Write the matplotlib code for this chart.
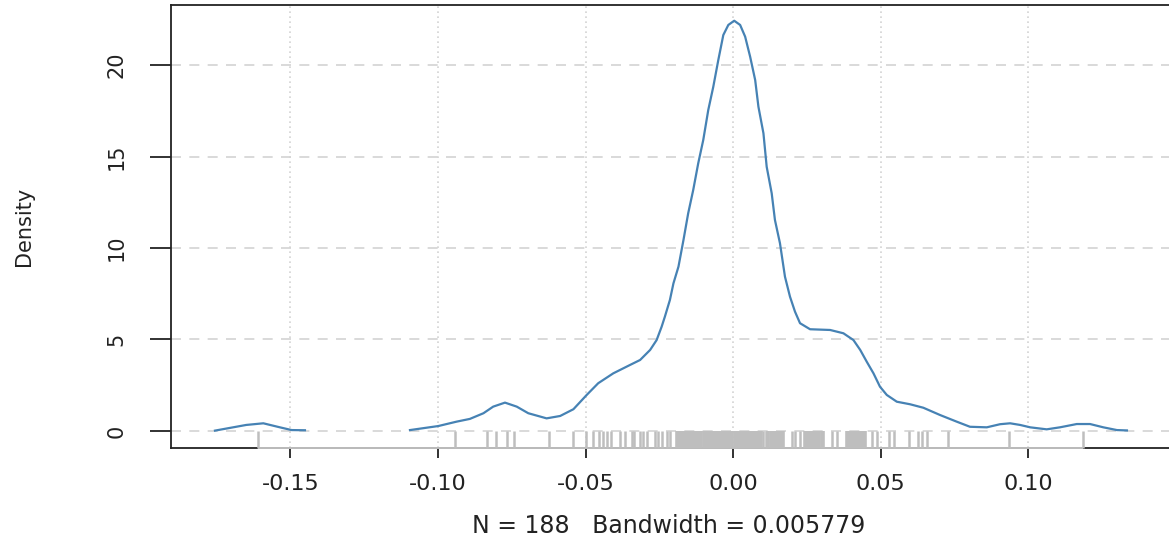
import matplotlib
matplotlib.use('Agg')
from matplotlib import pyplot as plt
import matplotlib.transforms as mtransforms

plt.rcParams['font.family'] = ['DejaVu Sans']
plt.rcParams['axes.unicode_minus'] = False

# density curve (x value, density)
bump_x = [-0.1756, -0.1650, -0.1592, -0.1536, -0.1496, -0.1451]
bump_y = [0.02, 0.33, 0.42, 0.20, 0.05, 0.04]

dens_x = [-0.1095, -0.0999, -0.0937, -0.0892, -0.0846, -0.0813, -0.0773, -0.0733,
          -0.0694, -0.0632, -0.0586, -0.0541, -0.0496, -0.0457, -0.0406, -0.0349,
          -0.0315, -0.0281, -0.0259, -0.0242, -0.0231, -0.0214, -0.0202, -0.0185,
          -0.0168, -0.0152, -0.0135, -0.0118, -0.0101, -0.0084, -0.0067, -0.0050,
          -0.0033, -0.0016, 0.0004, 0.0024, 0.0041, 0.0058, 0.0075, 0.0086,
          0.0103, 0.0114, 0.0131, 0.0142, 0.0159, 0.0176, 0.0193, 0.0210,
          0.0227, 0.0261, 0.0329, 0.0374, 0.0408, 0.0431, 0.0453, 0.0476,
          0.0498, 0.0521, 0.0555, 0.0600, 0.0645, 0.0702, 0.0758, 0.0803,
          0.0860, 0.0905, 0.0939, 0.0973, 0.1007, 0.1063, 0.1108, 0.1165,
          0.1210, 0.1255, 0.1301, 0.1335]
dens_y = [0.05, 0.27, 0.51, 0.66, 0.97, 1.33, 1.55, 1.33,
          0.97, 0.69, 0.82, 1.19, 1.97, 2.61, 3.15, 3.61,
          3.88, 4.43, 4.97, 5.70, 6.25, 7.16, 8.07, 8.98,
          10.44, 11.90, 13.17, 14.63, 15.90, 17.54, 18.81, 20.27,
          21.64, 22.19, 22.42, 22.19, 21.55, 20.45, 19.18, 17.72,
          16.27, 14.44, 12.99, 11.53, 10.26, 8.43, 7.34, 6.52,
          5.89, 5.56, 5.52, 5.34, 4.97, 4.43, 3.79, 3.15,
          2.42, 1.97, 1.60, 1.46, 1.27, 0.87, 0.51, 0.23,
          0.20, 0.37, 0.42, 0.33, 0.20, 0.09, 0.20, 0.38,
          0.38, 0.20, 0.05, 0.03]

# rug: single observations
rug_single = [-0.1610, -0.0942, -0.0835, -0.0802, -0.0767, -0.0741, -0.0625, -0.0541,
              -0.0499, -0.0476, -0.0453, -0.0442, -0.0428, -0.0414, -0.0383, -0.0366,
              -0.0343, -0.0336, -0.0315, -0.0304, -0.0293, -0.0264, -0.0253, -0.0242,
              -0.0225, -0.0214, 0.0101, 0.0112, 0.0199, 0.0210, 0.0227, 0.0335,
              0.0352, 0.0470, 0.0487, 0.0529, 0.0544, 0.0597, 0.0628, 0.0640,
              0.0657, 0.0727, 0.0937, 0.1187]
# rug: densely packed observations
rug_dense = [-0.0191, -0.0184, -0.0177, -0.0170, -0.0163, -0.0156, -0.0149, -0.0142,
             -0.0135, -0.0128, -0.0121, -0.0114, -0.0107, -0.0100, -0.0093, -0.0086,
             -0.0079, -0.0072, -0.0065, -0.0058, -0.0051, -0.0044, -0.0037, -0.0030,
             -0.0023, -0.0016, -0.0009, -0.0002, 0.0005, 0.0012, 0.0019, 0.0026,
             0.0033, 0.0040, 0.0047, 0.0054, 0.0061, 0.0068, 0.0075, 0.0082,
             0.0089, 0.0094,
             0.0120, 0.0127, 0.0134, 0.0141, 0.0148, 0.0155, 0.0162, 0.0169,
             0.0244, 0.0251, 0.0258, 0.0265, 0.0272, 0.0279, 0.0286, 0.0293,
             0.0300, 0.0306,
             0.0385, 0.0392, 0.0399, 0.0406, 0.0413, 0.0420, 0.0427, 0.0434,
             0.0441, 0.0448]

x_ticks = [-0.15, -0.10, -0.05, 0.00, 0.05, 0.10]
x_labels = ['-0.15', '-0.10', '-0.05', '0.00', '0.05', '0.10']
y_ticks = [0, 5, 10, 15, 20]
y_labels = ['0', '5', '10', '15', '20']

W, H = 1169, 544
fig = plt.figure(figsize=(W / 100, H / 100), dpi=100)
ax = fig.add_axes([171 / W, 96 / H, 999 / W, 443 / H])
ax.set_xlim(-0.1905, 0.1481)
ax.set_ylim(-0.93, 23.28)

# grid like R's grid()
for v in x_ticks:
    ax.axvline(v, color='#d3d3d3', lw=1.2, linestyle=(0, (1, 2)), zorder=1)
for v in y_ticks:
    ax.axhline(v, color='#d3d3d3', lw=1.2, linestyle=(0, (6, 5)), zorder=1)

col = '#4682b4'
ax.plot(bump_x, bump_y, color=col, lw=1.6, zorder=3)
ax.plot(dens_x, dens_y, color=col, lw=1.6, zorder=3)

# rug
trans = mtransforms.blended_transform_factory(ax.transData, ax.transAxes)
rug_all = rug_single + rug_dense
ax.vlines(rug_single, 0, 17 / 443, transform=trans, color='#bebebe', lw=1.8,
          zorder=4, clip_on=False)
ax.vlines(rug_dense, 0, 17 / 443, transform=trans, color='#bebebe', lw=2.6,
          zorder=4, clip_on=False)
ax.plot([min(rug_all), max(rug_all)], [0, 0], transform=trans, color='#bebebe',
        lw=1.4, zorder=4, clip_on=False, solid_capstyle='butt')

for s in ['left', 'bottom', 'top', 'right']:
    ax.spines[s].set_color('#222222')
    ax.spines[s].set_linewidth(1.3)

ax.set_xticks(x_ticks)
ax.set_xticklabels(x_labels, fontsize=16)
ax.set_yticks(y_ticks)
ax.set_yticklabels(y_labels, fontsize=15, rotation=90, va='center')
ax.tick_params(axis='x', length=7.5, width=1.3, pad=11, colors='#222222')
ax.tick_params(axis='y', length=15, width=1.3, pad=17, colors='#222222')

fig.text(669 / W, 1 - 526 / H, 'N = 188   Bandwidth = 0.005779', fontsize=17,
         ha='center', va='center', color='#222222')
fig.text(24 / W, 1 - 226 / H, 'Density', fontsize=15, rotation=90,
         ha='center', va='center', color='#222222')

fig.savefig('out.png', dpi=100)
